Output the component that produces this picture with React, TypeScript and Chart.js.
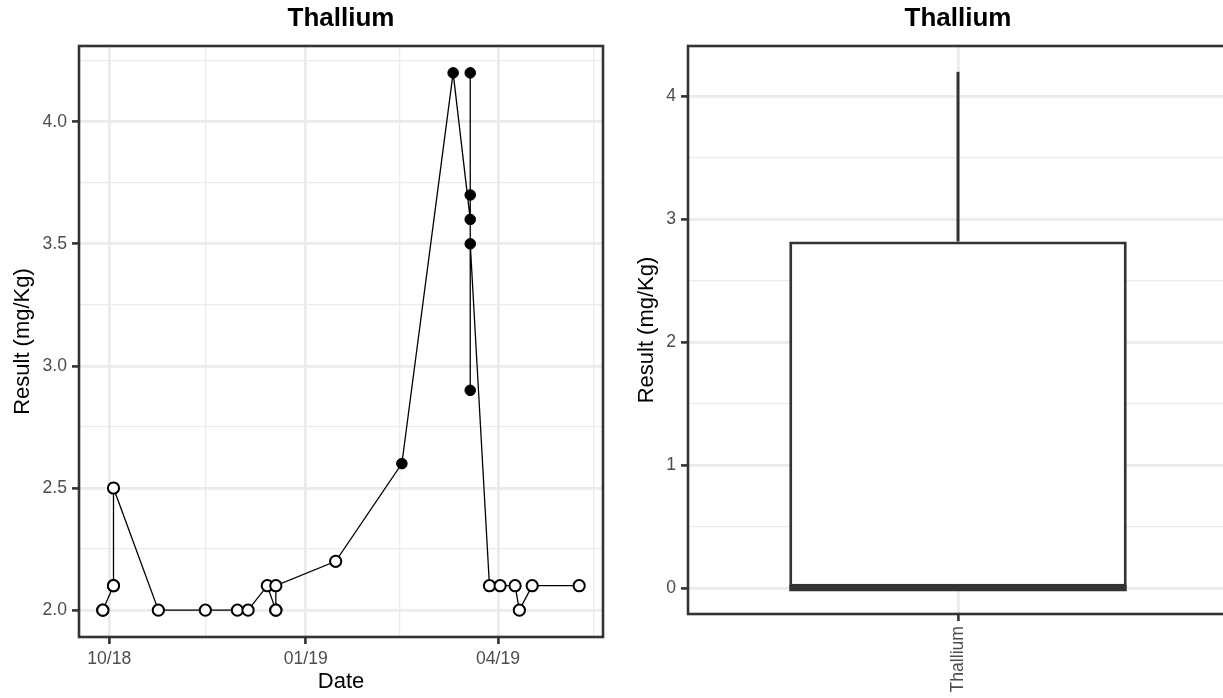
import React, { useEffect, useRef } from 'react';
import { Chart, registerables } from 'chart.js';

Chart.register(...registerables);

// ---------- Data: time series (left panel) ----------
const sampleDates = [
  '2018-09-28', '2018-09-28', '2018-10-03', '2018-10-03', '2018-10-03',
  '2018-10-24', '2018-11-15', '2018-11-30', '2018-12-05', '2018-12-14',
  '2018-12-18', '2018-12-18', '2018-12-18', '2019-01-15', '2019-02-15',
  '2019-03-11', '2019-03-19', '2019-03-19', '2019-03-19', '2019-03-19',
  '2019-03-19', '2019-03-28', '2019-04-02', '2019-04-09', '2019-04-11',
  '2019-04-17', '2019-05-09',
];
const results = [
  2.0, 2.0, 2.1, 2.1, 2.5,
  2.0, 2.0, 2.0, 2.0, 2.1,
  2.0, 2.0, 2.1, 2.2, 2.6,
  4.2, 3.6, 4.2, 3.7, 2.9,
  3.5, 2.1, 2.1, 2.1, 2.0,
  2.1, 2.1,
];
const detected = [
  false, false, false, false, false,
  false, false, false, false, false,
  false, false, false, false, true,
  true, true, true, true, true,
  true, false, false, false, false,
  false, false,
];
const xMajorTickDates = ['2018-10-01', '2019-01-01', '2019-04-01'];
const xMinorTickDates = ['2018-11-15', '2019-02-14', '2019-05-16'];
const yMajorTicksLeft = [2.0, 2.5, 3.0, 3.5, 4.0];
const yMinorTicksLeft = [2.25, 2.75, 3.25, 3.75, 4.25];

// ---------- Data: box plot (right panel) ----------
const boxCategories = ['Thallium'];
const boxQ1 = [0];
const boxMedian = [0];
const boxQ3 = [2.82];
const whiskerLow = [0];
const whiskerHigh = [4.2];
const yMajorTicksRight = [0, 1, 2, 3, 4];
const yMinorTicksRight = [0.5, 1.5, 2.5, 3.5];

const chartTitle = 'Thallium';
const yAxisTitle = 'Result (mg/Kg)';
const xAxisTitle = 'Date';

const FONT = '"Liberation Sans", Arial, Helvetica, sans-serif';
const GRID = '#EBEBEB';
const DARK = '#333333';
const TICK_TEXT = '#4D4D4D';

const toMs = (s: string) => {
  const [y, m, d] = s.split('-').map(Number);
  return Date.UTC(y, m - 1, d);
};
const fmtMonth = (v: number) => {
  const d = new Date(v);
  return String(d.getUTCMonth() + 1).padStart(2, '0') + '/' + String(d.getUTCFullYear() % 100).padStart(2, '0');
};

const titlePlugin = {
  id: 'panelTitle',
  afterDraw(chart: any) {
    const { ctx, chartArea } = chart;
    ctx.save();
    ctx.font = `bold 26px ${FONT}`;
    ctx.fillStyle = '#000';
    ctx.textAlign = 'center';
    ctx.textBaseline = 'middle';
    ctx.fillText(chartTitle, (chartArea.left + chartArea.right) / 2, 19);
    ctx.restore();
  },
};

const framePlugin = {
  id: 'panelFrame',
  afterDatasetsDraw(chart: any) {
    const { ctx, chartArea } = chart;
    ctx.save();
    ctx.strokeStyle = DARK;
    ctx.lineWidth = 2.6;
    ctx.strokeRect(chartArea.left, chartArea.top, chartArea.right - chartArea.left, chartArea.bottom - chartArea.top);
    ctx.restore();
  },
};

const boxPlugin = {
  id: 'boxExtras',
  afterDatasetsDraw(chart: any) {
    const { ctx } = chart;
    const yScale = chart.scales.y;
    const meta = chart.getDatasetMeta(0);
    ctx.save();
    ctx.strokeStyle = DARK;
    meta.data.forEach((el: any, i: number) => {
      const x = el.x;
      const w = el.width;
      ctx.lineWidth = 3;
      ctx.beginPath();
      ctx.moveTo(x, yScale.getPixelForValue(boxQ3[i]));
      ctx.lineTo(x, yScale.getPixelForValue(whiskerHigh[i]));
      ctx.moveTo(x, yScale.getPixelForValue(boxQ1[i]));
      ctx.lineTo(x, yScale.getPixelForValue(whiskerLow[i]));
      ctx.stroke();
      ctx.lineWidth = 6;
      ctx.beginPath();
      const ym = yScale.getPixelForValue(boxMedian[i]);
      ctx.moveTo(x - w / 2, ym);
      ctx.lineTo(x + w / 2, ym);
      ctx.stroke();
    });
    ctx.restore();
  },
};

function gridOpts(majorSet: Set<number>) {
  return {
    color: GRID,
    lineWidth: (c: any) => (c.tick && majorSet.has(c.tick.value) ? 2.8 : 1.3),
    tickColor: (c: any) => (c.tick && majorSet.has(c.tick.value) ? DARK : 'rgba(0,0,0,0)'),
    tickWidth: 2.6,
    tickLength: 7,
    drawTicks: true,
  };
}

function leftConfig(): any {
  const xs = sampleDates.map(toMs);
  const xMin0 = Math.min(...xs);
  const xMax0 = Math.max(...xs);
  const xPad = (xMax0 - xMin0) * 0.05;
  const yMin0 = Math.min(...results);
  const yMax0 = Math.max(...results);
  const yPad = (yMax0 - yMin0) * 0.05;
  const xMajor = new Set(xMajorTickDates.map(toMs));
  const xAll = [...xMajorTickDates, ...xMinorTickDates].map(toMs).sort((a, b) => a - b);
  const yMajor = new Set(yMajorTicksLeft);
  const yAll = [...yMajorTicksLeft, ...yMinorTicksLeft].sort((a, b) => a - b);

  return {
    type: 'line',
    data: {
      datasets: [
        {
          data: xs.map((x, i) => ({ x, y: results[i] })),
          borderColor: '#000',
          borderWidth: 1.3,
          tension: 0,
          fill: false,
          pointRadius: detected.map((d) => (d ? 5.3 : 5.6)),
          pointBorderWidth: detected.map((d) => (d ? 1 : 2)),
          pointBorderColor: '#000',
          pointBackgroundColor: detected.map((d) => (d ? '#000' : '#fff')),
        },
      ],
    },
    options: {
      responsive: false,
      animation: false,
      devicePixelRatio: 1,
      layout: { padding: { top: 46, right: 9, left: 0, bottom: 0 } },
      plugins: { legend: { display: false }, tooltip: { enabled: false }, title: { display: false } },
      scales: {
        x: {
          type: 'linear',
          min: xMin0 - xPad,
          max: xMax0 + xPad,
          afterBuildTicks: (scale: any) => {
            scale.ticks = xAll.map((v) => ({ value: v }));
          },
          afterFit: (scale: any) => {
            scale.height = 61;
          },
          ticks: {
            autoSkip: false,
            maxRotation: 0,
            minRotation: 0,
            padding: 5,
            color: TICK_TEXT,
            font: { family: FONT, size: 17.6 },
            callback: (v: number) => (xMajor.has(v) ? fmtMonth(v) : ''),
          },
          grid: gridOpts(xMajor),
          border: { display: false },
          title: {
            display: true,
            text: xAxisTitle,
            color: '#000',
            font: { family: FONT, size: 22 },
            padding: { top: 0, bottom: 3 },
          },
        },
        y: {
          type: 'linear',
          min: yMin0 - yPad,
          max: yMax0 + yPad,
          afterBuildTicks: (scale: any) => {
            scale.ticks = yAll.map((v) => ({ value: v }));
          },
          afterFit: (scale: any) => {
            scale.width = 79;
          },
          ticks: {
            autoSkip: false,
            padding: 5,
            color: TICK_TEXT,
            font: { family: FONT, size: 17.6 },
            callback: (v: number) => (yMajor.has(v) ? v.toFixed(1) : ''),
          },
          grid: gridOpts(yMajor),
          border: { display: false },
          title: {
            display: true,
            text: yAxisTitle,
            color: '#000',
            font: { family: FONT, size: 22 },
            padding: { top: 10, bottom: 0 },
          },
        },
      },
    },
    plugins: [titlePlugin, framePlugin],
  };
}

function rightConfig(): any {
  const yMin0 = Math.min(...whiskerLow);
  const yMax0 = Math.max(...whiskerHigh);
  const yPad = (yMax0 - yMin0) * 0.05;
  const yMajor = new Set(yMajorTicksRight);
  const yAll = [...yMajorTicksRight, ...yMinorTicksRight].sort((a, b) => a - b);

  return {
    type: 'bar',
    data: {
      labels: boxCategories,
      datasets: [
        {
          data: boxCategories.map((_, i) => [boxQ1[i], boxQ3[i]]),
          backgroundColor: '#ffffff',
          borderColor: DARK,
          borderWidth: 3,
          borderSkipped: false,
          barPercentage: 0.625,
          categoryPercentage: 1,
        },
      ],
    },
    options: {
      responsive: false,
      animation: false,
      devicePixelRatio: 1,
      layout: { padding: { top: 46, right: 12, left: 0, bottom: 0 } },
      plugins: { legend: { display: false }, tooltip: { enabled: false }, title: { display: false } },
      scales: {
        x: {
          type: 'category',
          offset: true,
          afterFit: (scale: any) => {
            scale.height = 84;
          },
          ticks: {
            autoSkip: false,
            minRotation: 90,
            maxRotation: 90,
            padding: 5,
            color: TICK_TEXT,
            font: { family: FONT, size: 17.6 },
          },
          grid: {
            offset: false,
            color: GRID,
            lineWidth: 2.8,
            tickColor: DARK,
            tickWidth: 2.6,
            tickLength: 7,
          },
          border: { display: false },
        },
        y: {
          type: 'linear',
          min: yMin0 - yPad,
          max: yMax0 + yPad,
          afterBuildTicks: (scale: any) => {
            scale.ticks = yAll.map((v) => ({ value: v }));
          },
          afterFit: (scale: any) => {
            scale.width = 76;
          },
          ticks: {
            autoSkip: false,
            padding: 5,
            color: TICK_TEXT,
            font: { family: FONT, size: 17.6 },
            callback: (v: number) => (yMajor.has(v) ? String(v) : ''),
          },
          grid: gridOpts(yMajor),
          border: { display: false },
          title: {
            display: true,
            text: yAxisTitle,
            color: '#000',
            font: { family: FONT, size: 22 },
            padding: { top: 22, bottom: 0 },
          },
        },
      },
    },
    plugins: [titlePlugin, boxPlugin, framePlugin],
  };
}

export default function App() {
  const leftRef = useRef<HTMLCanvasElement>(null);
  const rightRef = useRef<HTMLCanvasElement>(null);

  useEffect(() => {
    const c1 = new Chart(leftRef.current as HTMLCanvasElement, leftConfig());
    const c2 = new Chart(rightRef.current as HTMLCanvasElement, rightConfig());
    return () => {
      c1.destroy();
      c2.destroy();
    };
  }, []);

  return (
    <div
      style={{
        position: 'fixed',
        left: 0,
        top: 0,
        width: 1223,
        height: 698,
        overflow: 'hidden',
        background: '#ffffff',
      }}
    >
      <canvas
        ref={leftRef}
        width={612}
        height={698}
        style={{ position: 'absolute', left: 0, top: 0, width: 612, height: 698 }}
      />
      <canvas
        ref={rightRef}
        width={628}
        height={698}
        style={{ position: 'absolute', left: 612, top: 0, width: 628, height: 698 }}
      />
    </div>
  );
}
